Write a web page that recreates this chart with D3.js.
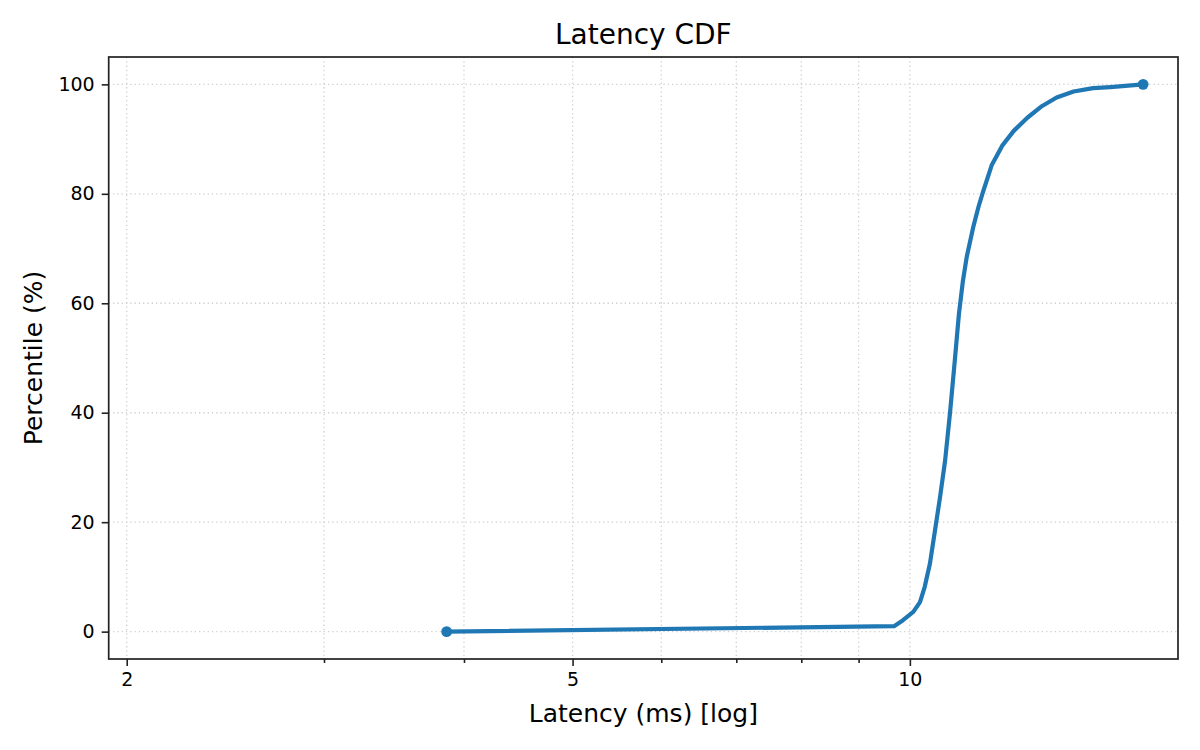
<!DOCTYPE html>
<html>
<head>
<meta charset="utf-8">
<script src="https://cdn.jsdelivr.net/npm/d3@7"></script>
<style>
  body { margin: 0; background: #fff; }
  text { font-family: "DejaVu Sans", sans-serif; fill: #000; }
</style>
</head>
<body>
<div id="viz"></div>
<script>
let latencyMs = [3.86, 9.68, 9.86, 10.07, 10.21, 10.31, 10.42, 10.53, 10.64, 10.75, 10.86,
                 10.97, 11.06, 11.15, 11.24, 11.39, 11.51, 11.62, 11.83, 12.09, 12.38, 12.73,
                 13.09, 13.52, 14.0, 14.57, 15.1, 16.15];
let percentile = [0, 1.0, 2.1, 3.6, 5.4, 8.2, 12.4, 18.5, 24.6, 31.2, 40.0,
                  49.8, 58.0, 64.0, 68.5, 73.9, 77.5, 80.3, 85.2, 88.8, 91.5, 93.9,
                  95.9, 97.6, 98.7, 99.3, 99.5, 100];

let xMajorTicks = [2, 5, 10];
let xMinorTicks = [3, 4, 6, 7, 8, 9];
let yTicks = [0, 20, 40, 60, 80, 100];

let width = 1200,
    height = 750;
let margin = {top: 57, right: 22, bottom: 91, left: 108.7};

let data = latencyMs.map((d, i) => ({x: d, y: percentile[i]}));

let x = d3.scaleLog()
    .domain([Math.pow(10, 0.28496), Math.pow(10, 1.2393)])
    .range([margin.left, width - margin.right]);
let y = d3.scaleLinear()
    .domain([-5, 105])
    .range([height - margin.bottom, margin.top]);

let svg = d3.select('#viz')
    .append('svg')
    .attr('width', width)
    .attr('height', height);

// dotted grid, minor x ticks included
let grid = svg.append('g')
    .attr('stroke', '#cfcfcf')
    .attr('stroke-width', 1.3)
    .attr('stroke-dasharray', '1.3,3');
grid.selectAll('line.gx')
    .data(xMajorTicks.concat(xMinorTicks))
    .join('line')
    .attr('class', 'gx')
    .attr('x1', d => x(d)).attr('x2', d => x(d))
    .attr('y1', margin.top).attr('y2', height - margin.bottom);
grid.selectAll('line.gy')
    .data(yTicks)
    .join('line')
    .attr('class', 'gy')
    .attr('x1', margin.left).attr('x2', width - margin.right)
    .attr('y1', d => y(d)).attr('y2', d => y(d));

// x axis: major ticks labelled, minor ticks short
svg.append('g')
    .attr('transform', `translate(0,${height - margin.bottom})`)
    .call(d3.axisBottom(x).tickValues(xMajorTicks).tickFormat(d3.format('d'))
        .tickSize(7).tickPadding(7).tickSizeOuter(0));
svg.append('g')
    .attr('transform', `translate(0,${height - margin.bottom})`)
    .call(d3.axisBottom(x).tickValues(xMinorTicks).tickFormat('')
        .tickSize(4).tickSizeOuter(0));

svg.append('g')
    .attr('transform', `translate(${margin.left},0)`)
    .call(d3.axisLeft(y).tickValues(yTicks).tickSize(7).tickPadding(7).tickSizeOuter(0));

svg.selectAll('.domain').remove();
svg.selectAll('.tick line').attr('stroke', '#222').attr('stroke-width', 1.6);
svg.selectAll('.tick text')
    .style('font-size', '19px')
    .style('font-family', '"DejaVu Sans", sans-serif')
    .attr('fill', '#000');

// the cdf line
svg.append('path')
    .datum(data)
    .attr('fill', 'none')
    .attr('stroke', '#1f77b4')
    .attr('stroke-width', 4.2)
    .attr('stroke-linejoin', 'round')
    .attr('stroke-linecap', 'round')
    .attr('d', d3.line().x(d => x(d.x)).y(d => y(d.y)));

// markers at min and max
svg.selectAll('circle')
    .data([data[0], data[data.length - 1]])
    .join('circle')
    .attr('cx', d => x(d.x))
    .attr('cy', d => y(d.y))
    .attr('r', 5.4)
    .attr('fill', '#1f77b4');

// frame
svg.append('rect')
    .attr('x', margin.left)
    .attr('y', margin.top)
    .attr('width', width - margin.right - margin.left)
    .attr('height', height - margin.bottom - margin.top)
    .attr('fill', 'none')
    .attr('stroke', '#222')
    .attr('stroke-width', 1.7);

let cx = (margin.left + width - margin.right) / 2;
svg.append('text')
    .attr('x', cx).attr('y', 44)
    .attr('text-anchor', 'middle')
    .style('font-size', '28px')
    .text('Latency CDF');
svg.append('text')
    .attr('x', cx).attr('y', 722)
    .attr('text-anchor', 'middle')
    .style('font-size', '25px')
    .text('Latency (ms) [log]');
svg.append('text')
    .attr('transform', `translate(41.5,${(margin.top + height - margin.bottom) / 2}) rotate(-90)`)
    .attr('text-anchor', 'middle')
    .style('font-size', '25px')
    .text('Percentile (%)');
</script>
</body>
</html>
